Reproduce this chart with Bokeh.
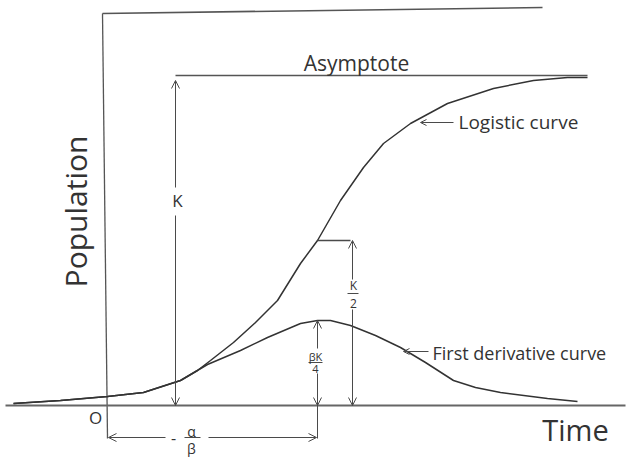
import math
from bokeh.plotting import figure
from bokeh.models import Range1d, Label, Arrow, OpenHead
from bokeh.embed import file_html
from bokeh.resources import INLINE

# ---- data (time measured from origin O, population above the baseline) ----
logistic_t = [-94, -47, 0, 36, 73, 90, 103, 126, 148, 170, 193, 210, 233, 256, 276, 303, 340, 386, 426, 460, 480]
logistic_pop = [2, 5, 9, 13, 25, 35, 45, 63, 83, 105, 142, 165, 205, 238, 262, 282, 302, 317, 325, 328, 328]
deriv_t = [-94, -47, 0, 36, 73, 100, 133, 160, 193, 210, 223, 243, 268, 293, 318, 346, 368, 393, 440, 470]
deriv_pop = [2, 5, 9, 13, 25, 41, 55, 68, 82, 85, 85, 80, 70, 58, 43, 25, 18, 13, 7, 4]
K = 330            # asymptote
frame_top = [392, 398]

peak_i = deriv_pop.index(max(deriv_pop))
t_peak = deriv_t[peak_i]          # -alpha/beta
peak = deriv_pop[peak_i]          # beta K / 4
half_K = K / 2

INK = "#333333"
THIN = "#4a4a4a"
FONT = "Open Sans"

p = figure(width=633, height=457, x_range=Range1d(-107, 526), y_range=Range1d(-52, 405),
           x_axis_type=None, y_axis_type=None, output_backend="svg", toolbar_location=None,
           min_border=0, outline_line_color=None, background_fill_color="white",
           border_fill_color="white")

# frame lines
p.line([-5, 435], frame_top, line_color="#555555", line_width=1.6)
p.line([-5, 0], [frame_top[0], -33], line_color="#555555", line_width=1.3)
p.line([-102, 518], [0, 0], line_color="#666666", line_width=2)
# asymptote
p.line([68, 480], [K, K], line_color="#555555", line_width=1.6)

# curves
p.line(logistic_t, logistic_pop, line_color=INK, line_width=1.5)
p.line(deriv_t, deriv_pop, line_color=INK, line_width=1.5)

def arrow(x0, y0, x1, y1, head_start=False, size=8):
    a = Arrow(x_start=x0, y_start=y0, x_end=x1, y_end=y1, line_color=THIN, line_width=1,
              end=OpenHead(size=size, line_color=THIN, line_width=1),
              start=OpenHead(size=size, line_color=THIN, line_width=1) if head_start else None)
    p.add_layout(a)

def lab(x, y, text, size, align="center", angle=0.0):
    p.add_layout(Label(x=x, y=y, text=text, text_font=FONT, text_font_size=f"{size}px",
                       text_color=INK, text_align=align, text_baseline="middle", angle=angle))

# K arrow (with gap for label)
kx = 68
arrow(kx, 218, kx, K - 5)
arrow(kx, 190, kx, 0)
lab(kx + 2, 205, "K", 17)

# K/2 arrow
k2x = 245
p.line([t_peak, k2x - 2], [half_K, half_K], line_color=THIN, line_width=1.3)
arrow(k2x, 126, k2x, half_K)
arrow(k2x, 96, k2x, 0)
lab(k2x + 1, 120, "K", 12)
p.line([k2x - 5, k2x + 6], [112, 112], line_color=THIN, line_width=1)
lab(k2x + 1, 102, "2", 12)

# beta K / 4 arrow
arrow(t_peak, 57, t_peak, peak)
arrow(t_peak, 32, t_peak, 0)
p.line([t_peak, t_peak], [-33, 0], line_color=THIN, line_width=1)
lab(t_peak - 2, 49, "βK", 11)
p.line([t_peak - 9, t_peak + 5], [43, 43], line_color=THIN, line_width=1)
lab(t_peak - 2, 37, "4", 11)

# -alpha/beta arrow
ay = -32
arrow(58, ay, 1, ay)
arrow(101, ay, t_peak - 1, ay)
lab(66, ay, "-", 16)
lab(84, ay + 6, "α", 14)
p.line([77, 93], [ay, ay], line_color=THIN, line_width=1)
lab(84, ay - 11, "β", 14)

# texts
lab(-12, -12, "O", 17)
lab(468, -24, "Time", 29)
lab(-32, 194, "Population", 30, angle=math.pi / 2)
lab(249, 343, "Asymptote", 21)
lab(351, 284, "Logistic curve", 19, align="left")
arrow(346, 283, 313, 283, size=6)
lab(325, 53, "First derivative curve", 18, align="left")
arrow(321, 54, 296, 54, size=6)

open("out.html", "w").write(file_html(p, INLINE))
